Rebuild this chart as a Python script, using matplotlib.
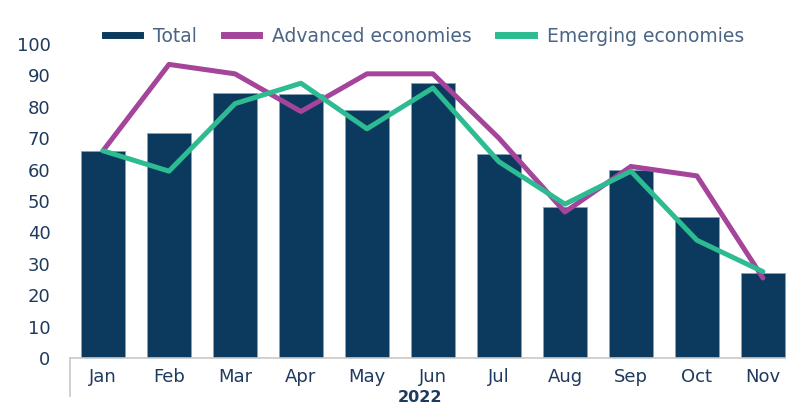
import numpy as np
import matplotlib.pyplot as plt

# Monthly values (2022)
months = ["Jan", "Feb", "Mar", "Apr", "May", "Jun", "Jul", "Aug", "Sep", "Oct", "Nov"]
total = [66, 71.5, 84.3, 84, 79, 87.5, 65, 48, 60, 45, 27]
advanced = [66, 93.5, 90.5, 78.5, 90.5, 90.5, 70, 46.5, 61, 58, 25.5]
emerging = [66, 59.5, 81, 87.5, 73, 86, 62.5, 49, 59.5, 37.5, 27.5]

navy = "#0b3a5e"
purple = "#a4449a"
green = "#2dbb92"
text_col = "#1f3a5f"

plt.rcParams['font.family'] = ['DejaVu Sans']

fig = plt.figure(figsize=(7.86, 4.05), dpi=100)
ax = fig.add_axes([70 / 786, 47 / 405, 1 - 70 / 786, 314 / 405])

x = np.arange(len(months))
ax.bar(x, total, width=0.66, color=navy, edgecolor="#8aa0b4", linewidth=0.6,
       label="Total", zorder=2)
ax.plot(x, advanced, color=purple, linewidth=3.6, solid_capstyle="round",
        label="Advanced economies", zorder=3)
ax.plot(x, emerging, color=green, linewidth=3.6, solid_capstyle="round",
        label="Emerging economies", zorder=4)

ax.set_xlim(-0.5, 10.35)
ax.set_ylim(0, 100)
ax.set_yticks(range(0, 101, 10))
ax.set_xticks(x)
ax.set_xticklabels(months)
ax.tick_params(axis="both", length=0, labelsize=13, colors=text_col)
ax.tick_params(axis="y", pad=14)
ax.tick_params(axis="x", pad=7)

for side in ["top", "right", "left"]:
    ax.spines[side].set_visible(False)
ax.spines["bottom"].set_color("#c8c8c8")
ax.spines["bottom"].set_linewidth(1.2)

# group separator line and year label under the months
ax.plot([0, 0], [0, -0.12], transform=ax.transAxes, color="#c8c8c8",
        linewidth=1.2, clip_on=False)
ax.text(4.8, -12.5, "2022", ha="center", va="center", fontsize=11.5,
        fontweight="bold", color=text_col)

handles = [plt.Line2D([], [], color=navy, linewidth=5),
           plt.Line2D([], [], color=purple, linewidth=5),
           plt.Line2D([], [], color=green, linewidth=5)]
leg = fig.legend(handles, ["Total", "Advanced economies", "Emerging economies"],
                 loc="center", bbox_to_anchor=(0.54, 1 - 36 / 405), ncol=3,
                 frameon=False, fontsize=13.5, handlelength=1.9, handletextpad=0.7,
                 columnspacing=1.4)
for t in leg.get_texts():
    t.set_color("#4a6585")

fig.savefig("out.png", dpi=100)
